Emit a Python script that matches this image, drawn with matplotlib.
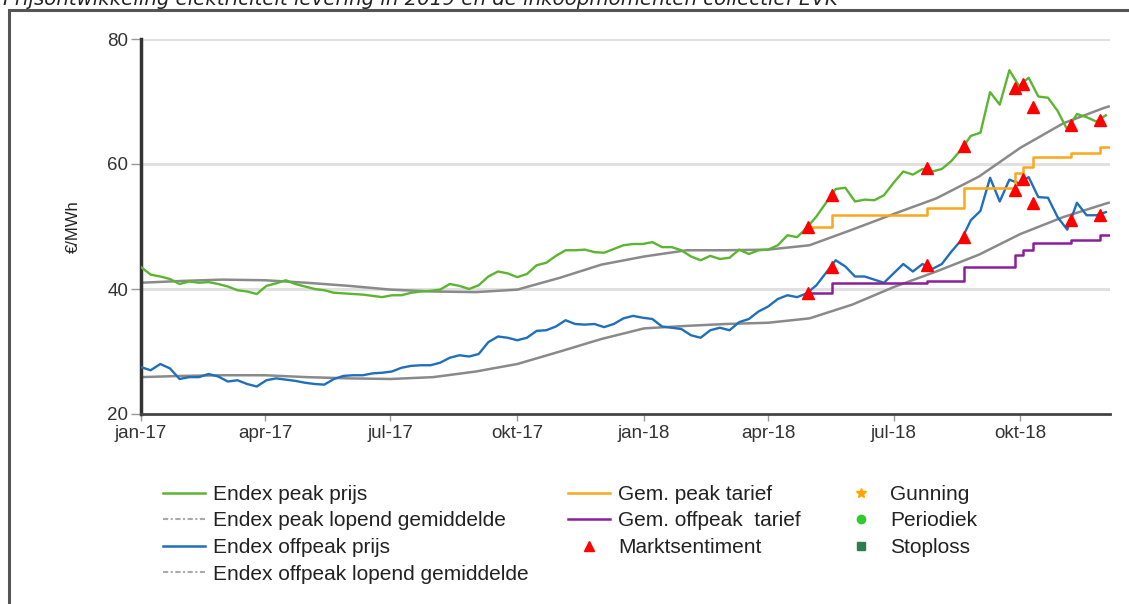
import numpy as np
import pandas as pd
import matplotlib
matplotlib.use("Agg")
import matplotlib.pyplot as plt
import matplotlib.dates as mdates
from matplotlib.lines import Line2D
from matplotlib.patches import Rectangle

# ---------------- data ----------------
week_start = "2017-01-01"   # weekly observations
peak_prijs = [
    43.5, 42.3, 42.0, 41.6, 40.8, 41.2, 41.0, 41.1, 40.8, 40.4,
    39.8, 39.6, 39.2, 40.5, 40.9, 41.4, 40.8, 40.4, 40.0, 39.8,
    39.4, 39.3, 39.2, 39.1, 38.9, 38.7, 39.0, 39.0, 39.4, 39.6,
    39.7, 39.9, 40.8, 40.5, 40.0, 40.6, 42.0, 42.8, 42.5, 41.9,
    42.4, 43.8, 44.2, 45.3, 46.2, 46.2, 46.3, 45.9, 45.8, 46.4,
    47.0, 47.2, 47.2, 47.5, 46.7, 46.7, 46.2, 45.2, 44.6, 45.3,
    44.8, 45.0, 46.3, 45.6, 46.2, 46.3, 47.0, 48.6, 48.3, 49.8,
    51.6, 53.8, 56.0, 56.2, 54.0, 54.3, 54.2, 55.0, 57.0, 58.8,
    58.3, 59.2, 58.8, 59.2, 60.5, 62.3, 64.5, 65.0, 71.5, 69.5,
    75.0, 72.5, 73.8, 70.8, 70.6, 68.5, 65.5, 68.0, 67.5, 66.8,
    67.8,
]
offpeak_prijs = [
    27.5, 27.0, 28.0, 27.3, 25.6, 25.9, 25.9, 26.4, 26.0, 25.2,
    25.4, 24.8, 24.4, 25.4, 25.7, 25.5, 25.3, 25.0, 24.8, 24.7,
    25.6, 26.1, 26.2, 26.2, 26.5, 26.6, 26.8, 27.4, 27.7, 27.8,
    27.8, 28.2, 29.0, 29.4, 29.2, 29.6, 31.5, 32.4, 32.2, 31.8,
    32.2, 33.3, 33.4, 34.0, 35.0, 34.4, 34.3, 34.4, 33.9, 34.4,
    35.3, 35.7, 35.4, 35.2, 34.0, 33.8, 33.6, 32.6, 32.2, 33.4,
    33.8, 33.4, 34.7, 35.2, 36.4, 37.2, 38.4, 39.0, 38.7, 39.3,
    40.6, 42.6, 44.6, 43.6, 42.0, 42.0, 41.5, 41.0, 42.5, 44.0,
    42.8, 44.0, 43.2, 44.0, 46.0, 47.8, 51.0, 52.5, 57.8, 54.0,
    57.5, 56.9, 57.9, 54.7, 54.6, 51.5, 49.5, 53.8, 51.8, 51.8,
    52.3,
]

ma_dates = [
    "2017-01-01", "2017-02-01", "2017-03-01", "2017-04-01", "2017-05-01", "2017-06-01",
    "2017-07-01", "2017-08-01", "2017-09-01", "2017-10-01", "2017-11-01", "2017-12-01",
    "2018-01-01", "2018-02-01", "2018-03-01", "2018-04-01", "2018-05-01", "2018-06-01",
    "2018-07-01", "2018-08-01", "2018-09-01", "2018-10-01", "2018-11-01", "2018-12-01",
    "2018-12-04",
]
peak_ma = [
    41.0, 41.3, 41.5, 41.4, 41.0, 40.5, 39.9, 39.6, 39.5, 39.9, 41.8, 43.9,
    45.2, 46.2, 46.2, 46.3, 47.0, 49.5, 52.0, 54.5, 58.0, 62.6, 66.5, 69.0, 69.2,
]
offpeak_ma = [
    25.9, 26.1, 26.2, 26.2, 25.9, 25.7, 25.6, 25.9, 26.8, 28.0, 30.0, 32.0,
    33.7, 34.1, 34.4, 34.6, 35.3, 37.5, 40.3, 42.8, 45.5, 48.8, 51.5, 53.6, 53.8,
]

buy_dates = ["2018-04-30", "2018-05-17", "2018-07-25", "2018-08-21", "2018-09-27",
             "2018-10-03", "2018-10-10", "2018-11-07", "2018-11-28"]
tarief_end = "2018-12-04"
peak_tarief = [50.0, 51.8, 52.9, 56.1, 58.6, 59.6, 61.2, 61.7, 62.7]
offpeak_tarief = [39.4, 41.0, 41.3, 43.5, 45.4, 46.2, 47.4, 47.9, 48.7]
sentiment_peak = [49.9, 55.0, 59.4, 62.9, 72.2, 72.8, 69.1, 66.2, 67.0]
sentiment_offpeak = [39.3, 43.5, 43.8, 48.3, 55.8, 57.6, 53.8, 51.0, 51.8]

tick_dates = ["2017-01-01", "2017-04-01", "2017-07-01", "2017-10-01",
              "2018-01-01", "2018-04-01", "2018-07-01", "2018-10-01"]
tick_labels = ["jan-17", "apr-17", "jul-17", "okt-17",
               "jan-18", "apr-18", "jul-18", "okt-18"]
y_ticks = [20, 40, 60, 80]

title = "Prijsontwikkeling elektriciteit levering in 2019 en de inkoopmomenten collectief EVK"

# ---------------- figure ----------------
W, H = 1129, 604
fig = plt.figure(figsize=(W / 100, H / 100), dpi=100)
plt.rcParams["font.family"] = ["Liberation Sans", "DejaVu Sans"]

ax = fig.add_axes([141 / W, 1 - 414 / H, 969 / W, 375 / H])

weeks = pd.date_range(week_start, periods=len(peak_prijs), freq="7D")
ma_d = pd.to_datetime(ma_dates)
bd = pd.to_datetime(buy_dates + [tarief_end])

GREEN = "#5cb531"
BLUE = "#1f6fba"
GRAY = "#8a8a8a"
ORANGE = "#fba81b"
PURPLE = "#8a1f9c"

for y in y_ticks[1:]:
    ax.axhline(y, color="#e0e0e0", lw=2.2, zorder=0)

ax.plot(ma_d, peak_ma, color=GRAY, lw=1.8, zorder=2)
ax.plot(ma_d, offpeak_ma, color=GRAY, lw=1.8, zorder=2)
ax.plot(weeks, peak_prijs, color=GREEN, lw=1.7, zorder=3)
ax.plot(weeks, offpeak_prijs, color=BLUE, lw=1.7, zorder=3)
ax.plot(bd, peak_tarief + [peak_tarief[-1]], color=ORANGE, lw=1.8,
        drawstyle="steps-post", zorder=4)
ax.plot(bd, offpeak_tarief + [offpeak_tarief[-1]], color=PURPLE, lw=1.8,
        drawstyle="steps-post", zorder=4)
bdm = pd.to_datetime(buy_dates)
ax.plot(bdm, sentiment_peak, ls="none", marker="^", ms=8, color="#ff0000",
        mec="#ff0000", zorder=5)
ax.plot(bdm, sentiment_offpeak, ls="none", marker="^", ms=8, color="#ff0000",
        mec="#ff0000", zorder=5)

ax.set_xlim(pd.Timestamp("2017-01-01"), pd.Timestamp("2017-01-01") + pd.Timedelta(days=703))
ax.set_ylim(20, 80)
ax.set_xticks(pd.to_datetime(tick_dates))
ax.set_xticklabels(tick_labels)
ax.set_yticks(y_ticks)
ax.tick_params(axis="both", labelsize=13.5, colors="#333333")
ax.tick_params(axis="x", length=5, width=1, color="#999999", pad=3)
ax.tick_params(axis="y", length=7, width=1, color="#999999", pad=2)
for s in ["top", "right"]:
    ax.spines[s].set_visible(False)
ax.spines["left"].set_color("#333333")
ax.spines["left"].set_linewidth(2.5)
ax.spines["bottom"].set_color("#444444")
ax.spines["bottom"].set_linewidth(2)
ax.set_ylabel("€/MWh", fontsize=12, color="#222222", labelpad=19)

# frame and cut-off title
fig.add_artist(Rectangle((9 / W, -0.2), 1.2, (H - 10) / H + 0.2, transform=fig.transFigure,
                         fill=False, ec="#555555", lw=2.2, clip_on=False))
fig.text(3 / W, 1 - 5 / H, title, fontsize=14.2, style="italic", va="baseline",
         ha="left", color="#222222", family="DejaVu Sans")

# legend
dash = (0, (2.5, 1.2, 1, 1.2))
handles = [
    Line2D([], [], color=GREEN, lw=1.8),
    Line2D([], [], color="#aaaaaa", lw=1.5, ls=dash),
    Line2D([], [], color=BLUE, lw=1.8),
    Line2D([], [], color="#aaaaaa", lw=1.5, ls=dash),
    Line2D([], [], color=ORANGE, lw=1.8),
    Line2D([], [], color=PURPLE, lw=1.8),
    Line2D([], [], ls="none", marker="^", ms=7, color="#ff0000"),
    Line2D([], [], ls="none", marker="*", ms=7, color="#ffa500"),
    Line2D([], [], ls="none", marker="o", ms=6, color="#2ecc2e"),
    Line2D([], [], ls="none", marker="s", ms=6, color="#2e7d4f"),
]
labels = [
    "Endex peak prijs", "Endex peak lopend gemiddelde", "Endex offpeak prijs",
    "Endex offpeak lopend gemiddelde", "Gem. peak tarief", "Gem. offpeak  tarief",
    "Marktsentiment", "Gunning", "Periodiek", "Stoploss",
]
fig.legend(handles, labels, ncol=3, loc="upper left",
           bbox_to_anchor=(163 / W, 1 - 485 / H), frameon=False,
           fontsize=15, handlelength=2.0, handletextpad=0.4,
           columnspacing=1.9, labelspacing=0.36, borderpad=0, borderaxespad=0,
           labelcolor="#222222")

fig.savefig("out.png", dpi=100)
